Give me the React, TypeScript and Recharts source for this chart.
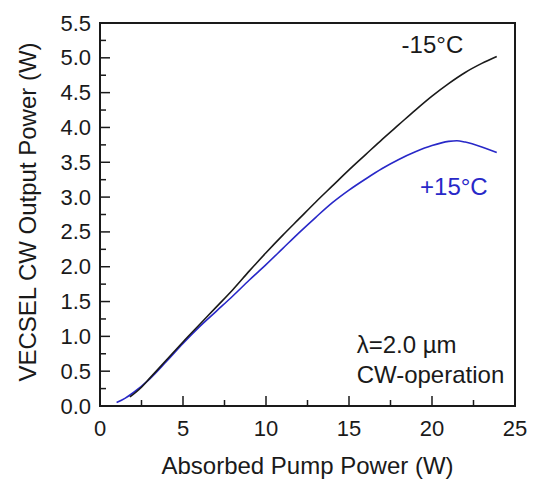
import { LineChart, Line, XAxis, YAxis, ReferenceArea, ReferenceDot } from 'recharts';

// -15°C curve
const coldPump = [1.8, 2.5, 3, 4, 5, 6, 7, 8, 9, 10, 11, 12, 13, 14, 15, 16, 17, 18, 19, 20, 21, 22, 23, 23.9];
const coldPower = [0.13, 0.27, 0.4, 0.66, 0.92, 1.17, 1.42, 1.67, 1.94, 2.2, 2.45, 2.69, 2.93, 3.16, 3.39, 3.61, 3.83, 4.04, 4.25, 4.45, 4.63, 4.79, 4.92, 5.02];

// +15°C curve
const warmPump = [1.0, 1.5, 2, 3, 4, 5, 6, 7, 8, 9, 10, 11, 12, 13, 14, 15, 16, 17, 18, 19, 20, 21, 21.5, 22, 23, 23.9];
const warmPower = [0.05, 0.11, 0.19, 0.39, 0.64, 0.9, 1.14, 1.36, 1.58, 1.81, 2.03, 2.26, 2.49, 2.71, 2.92, 3.1, 3.26, 3.41, 3.54, 3.65, 3.74, 3.8, 3.81, 3.79, 3.72, 3.64];

const xTicks = [0, 2.5, 5, 7.5, 10, 12.5, 15, 17.5, 20, 22.5, 25];
const xLabels = [0, 5, 10, 15, 20, 25];
const yTicks = [0, 0.25, 0.5, 0.75, 1, 1.25, 1.5, 1.75, 2, 2.25, 2.5, 2.75, 3, 3.25, 3.5, 3.75, 4, 4.25, 4.5, 4.75, 5, 5.25, 5.5];
const yLabels = [0, 0.5, 1, 1.5, 2, 2.5, 3, 3.5, 4, 4.5, 5, 5.5];

const coldData = coldPump.map((x, i) => ({ x, y: coldPower[i] }));
const warmData = warmPump.map((x, i) => ({ x, y: warmPower[i] }));

const FONT = '"Liberation Sans", Arial, sans-serif';
const INK = '#1a1a1a';
const BLUE = '#2828c8';

const W = 527;
const H = 474;
const LEFT = 92;
const TOP = 15;
const RIGHT = 507;
const BOTTOM = 398;

function XTick(props: any) {
  const { x, payload } = props;
  const major = xLabels.includes(payload.value);
  return (
    <g>
      <line x1={x} x2={x} y1={BOTTOM} y2={BOTTOM - (major ? 10 : 6)} stroke={INK} strokeWidth={1.5} />
      {major && (
        <text x={x} y={BOTTOM + 30} textAnchor="middle" fontSize={22} fontFamily={FONT} fill={INK}>
          {payload.value}
        </text>
      )}
    </g>
  );
}

function YTick(props: any) {
  const { y, payload } = props;
  const major = yLabels.includes(payload.value);
  return (
    <g>
      <line x1={LEFT} x2={LEFT + (major ? 10 : 6)} y1={y} y2={y} stroke={INK} strokeWidth={1.5} />
      {major && (
        <text x={LEFT - 9} y={y} textAnchor="end" dominantBaseline="central" fontSize={22} fontFamily={FONT} fill={INK}>
          {payload.value.toFixed(1)}
        </text>
      )}
    </g>
  );
}

const note = (text: string, color: string) => (p: any) => (
  <text x={p.cx} y={p.cy} fontSize={24} fontFamily={FONT} fill={color}>
    {text}
  </text>
);

export default function App() {
  return (
    <LineChart
      width={W}
      height={H}
      margin={{ top: TOP, right: W - RIGHT, left: 0, bottom: 0 }}
      style={{ background: '#fff' }}
    >
      <XAxis
        type="number"
        dataKey="x"
        domain={[0, 25]}
        ticks={xTicks}
        interval={0}
        axisLine={false}
        tickLine={false}
        tick={XTick}
        height={H - BOTTOM}
        label={{
          content: () => (
            <text x={(LEFT + RIGHT) / 2} y={466} textAnchor="middle" fontSize={24} fontFamily={FONT} fill={INK}>
              Absorbed Pump Power (W)
            </text>
          ),
        }}
      />
      <YAxis
        type="number"
        dataKey="y"
        domain={[0, 5.5]}
        ticks={yTicks}
        interval={0}
        axisLine={false}
        tickLine={false}
        tick={YTick}
        width={LEFT}
        label={{
          content: () => (
            <text
              x={19}
              y={204}
              transform="rotate(-90 19 204)"
              textAnchor="middle"
              dominantBaseline="central"
              fontSize={24}
              fontFamily={FONT}
              fill={INK}
            >
              VECSEL CW Output Power (W)
            </text>
          ),
        }}
      />
      <ReferenceArea x1={0} x2={25} y1={0} y2={5.5} fill="none" stroke={INK} strokeWidth={2} />
      <Line data={warmData} dataKey="y" type="monotone" stroke={BLUE} strokeWidth={1.6} dot={false} isAnimationActive={false} />
      <Line data={coldData} dataKey="y" type="monotone" stroke={INK} strokeWidth={1.6} dot={false} isAnimationActive={false} />
      <ReferenceDot x={18.17} y={5.07} r={0} shape={note('-15°C', INK)} />
      <ReferenceDot x={19.28} y={3.03} r={0} shape={note('+15°C', BLUE)} />
      <ReferenceDot x={15.46} y={0.76} r={0} shape={note('λ=2.0 µm', INK)} />
      <ReferenceDot x={15.46} y={0.33} r={0} shape={note('CW-operation', INK)} />
    </LineChart>
  );
}
